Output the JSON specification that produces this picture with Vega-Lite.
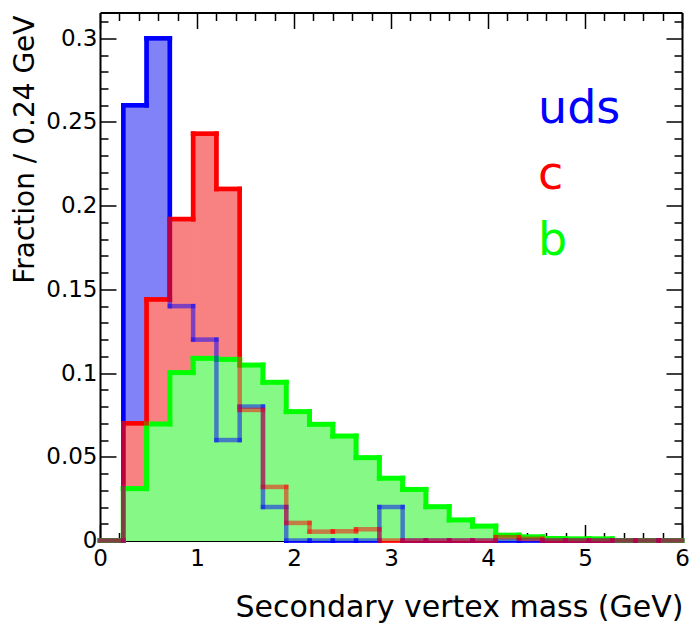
{
  "$schema": "https://vega.github.io/schema/vega-lite/v6.json",
  "width": 582,
  "height": 528,
  "autosize": "none",
  "padding": {"left": 100, "top": 12.5, "right": 7, "bottom": 82.5},
  "background": "white",
  "config": {
    "font": "DejaVu Sans",
    "view": {"stroke": null},
    "axis": {
      "domainColor": "black", "domainWidth": 2,
      "tickColor": "black", "tickWidth": 1.5,
      "grid": false, "labelColor": "black", "labelFontSize": 23,
      "labelFont": "DejaVu Sans", "titleFont": "DejaVu Sans",
      "titleColor": "black", "titleFontWeight": "normal",
      "labelOverlap": false, "labelFlush": false, "zindex": 1
    }
  },
  "data": {
    "values": [
      {"series": "uds", "lo": 0, "hi": 0.24, "frac": 0},
      {"series": "uds", "lo": 0.24, "hi": 0.48, "frac": 0.26},
      {"series": "uds", "lo": 0.48, "hi": 0.72, "frac": 0.30},
      {"series": "uds", "lo": 0.72, "hi": 0.96, "frac": 0.14},
      {"series": "uds", "lo": 0.96, "hi": 1.2, "frac": 0.12},
      {"series": "uds", "lo": 1.2, "hi": 1.44, "frac": 0.06},
      {"series": "uds", "lo": 1.44, "hi": 1.68, "frac": 0.08},
      {"series": "uds", "lo": 1.68, "hi": 1.92, "frac": 0.02},
      {"series": "uds", "lo": 1.92, "hi": 2.16, "frac": 0},
      {"series": "uds", "lo": 2.16, "hi": 2.4, "frac": 0},
      {"series": "uds", "lo": 2.4, "hi": 2.64, "frac": 0},
      {"series": "uds", "lo": 2.64, "hi": 2.88, "frac": 0},
      {"series": "uds", "lo": 2.88, "hi": 3.12, "frac": 0.02},
      {"series": "uds", "lo": 3.12, "hi": 3.36, "frac": 0},
      {"series": "uds", "lo": 3.36, "hi": 3.6, "frac": 0},
      {"series": "uds", "lo": 3.6, "hi": 3.84, "frac": 0},
      {"series": "uds", "lo": 3.84, "hi": 4.08, "frac": 0},
      {"series": "uds", "lo": 4.08, "hi": 4.32, "frac": 0},
      {"series": "uds", "lo": 4.32, "hi": 4.56, "frac": 0},
      {"series": "uds", "lo": 4.56, "hi": 4.8, "frac": 0},
      {"series": "uds", "lo": 4.8, "hi": 5.04, "frac": 0},
      {"series": "uds", "lo": 5.04, "hi": 5.28, "frac": 0},
      {"series": "uds", "lo": 5.28, "hi": 5.52, "frac": 0},
      {"series": "uds", "lo": 5.52, "hi": 5.76, "frac": 0},
      {"series": "uds", "lo": 5.76, "hi": 6, "frac": 0},
      {"series": "c", "lo": 0, "hi": 0.24, "frac": 0},
      {"series": "c", "lo": 0.24, "hi": 0.48, "frac": 0.07},
      {"series": "c", "lo": 0.48, "hi": 0.72, "frac": 0.144},
      {"series": "c", "lo": 0.72, "hi": 0.96, "frac": 0.192},
      {"series": "c", "lo": 0.96, "hi": 1.2, "frac": 0.243},
      {"series": "c", "lo": 1.2, "hi": 1.44, "frac": 0.21},
      {"series": "c", "lo": 1.44, "hi": 1.68, "frac": 0.078},
      {"series": "c", "lo": 1.68, "hi": 1.92, "frac": 0.032},
      {"series": "c", "lo": 1.92, "hi": 2.16, "frac": 0.0105},
      {"series": "c", "lo": 2.16, "hi": 2.4, "frac": 0.0053},
      {"series": "c", "lo": 2.4, "hi": 2.64, "frac": 0.0055},
      {"series": "c", "lo": 2.64, "hi": 2.88, "frac": 0.0067},
      {"series": "c", "lo": 2.88, "hi": 3.12, "frac": 0},
      {"series": "c", "lo": 3.12, "hi": 3.36, "frac": 0},
      {"series": "c", "lo": 3.36, "hi": 3.6, "frac": 0},
      {"series": "c", "lo": 3.6, "hi": 3.84, "frac": 0},
      {"series": "c", "lo": 3.84, "hi": 4.08, "frac": 0},
      {"series": "c", "lo": 4.08, "hi": 4.32, "frac": 0.002},
      {"series": "c", "lo": 4.32, "hi": 4.56, "frac": 0.001},
      {"series": "c", "lo": 4.56, "hi": 4.8, "frac": 0},
      {"series": "c", "lo": 4.8, "hi": 5.04, "frac": 0},
      {"series": "c", "lo": 5.04, "hi": 5.28, "frac": 0},
      {"series": "c", "lo": 5.28, "hi": 5.52, "frac": 0},
      {"series": "c", "lo": 5.52, "hi": 5.76, "frac": 0},
      {"series": "c", "lo": 5.76, "hi": 6, "frac": 0},
      {"series": "b", "lo": 0, "hi": 0.24, "frac": 0},
      {"series": "b", "lo": 0.24, "hi": 0.48, "frac": 0.031},
      {"series": "b", "lo": 0.48, "hi": 0.72, "frac": 0.0696},
      {"series": "b", "lo": 0.72, "hi": 0.96, "frac": 0.1003},
      {"series": "b", "lo": 0.96, "hi": 1.2, "frac": 0.1088},
      {"series": "b", "lo": 1.2, "hi": 1.44, "frac": 0.1082},
      {"series": "b", "lo": 1.44, "hi": 1.68, "frac": 0.1048},
      {"series": "b", "lo": 1.68, "hi": 1.92, "frac": 0.0945},
      {"series": "b", "lo": 1.92, "hi": 2.16, "frac": 0.077},
      {"series": "b", "lo": 2.16, "hi": 2.4, "frac": 0.0694},
      {"series": "b", "lo": 2.4, "hi": 2.64, "frac": 0.0624},
      {"series": "b", "lo": 2.64, "hi": 2.88, "frac": 0.0495},
      {"series": "b", "lo": 2.88, "hi": 3.12, "frac": 0.0372},
      {"series": "b", "lo": 3.12, "hi": 3.36, "frac": 0.0305},
      {"series": "b", "lo": 3.36, "hi": 3.6, "frac": 0.0202},
      {"series": "b", "lo": 3.6, "hi": 3.84, "frac": 0.0123},
      {"series": "b", "lo": 3.84, "hi": 4.08, "frac": 0.0086},
      {"series": "b", "lo": 4.08, "hi": 4.32, "frac": 0.0032},
      {"series": "b", "lo": 4.32, "hi": 4.56, "frac": 0.0022},
      {"series": "b", "lo": 4.56, "hi": 4.8, "frac": 0.0012},
      {"series": "b", "lo": 4.8, "hi": 5.04, "frac": 0.001},
      {"series": "b", "lo": 5.04, "hi": 5.28, "frac": 0.001},
      {"series": "b", "lo": 5.28, "hi": 5.52, "frac": 0},
      {"series": "b", "lo": 5.52, "hi": 5.76, "frac": 0},
      {"series": "b", "lo": 5.76, "hi": 6, "frac": 0}
    ]
  },
  "transform": [
    {"window": [{"op": "lag", "field": "frac", "as": "prev"}], "groupby": ["series"], "sort": [{"field": "lo"}]}
  ],
  "layer": [
    {
      "transform": [{"filter": "datum.series === 'uds'"}],
      "mark": {"type": "rect", "fill": "#8282f8", "stroke": "#8282f8", "strokeWidth": 1},
      "encoding": {
        "x": {"field": "lo", "type": "quantitative", "scale": {"domain": [0, 6], "nice": false, "zero": false},
          "axis": {
            "orient": "bottom",
            "values": [0,0.2,0.4,0.6,0.8,1,1.2,1.4,1.6,1.8,2,2.2,2.4,2.6,2.8,3,3.2,3.4,3.6,3.8,4,4.2,4.4,4.6,4.8,5,5.2,5.4,5.6,5.8,6],
            "labelExpr": "abs(datum.value - round(datum.value)) < 0.001 ? format(datum.value, 'd') : ''",
            "tickSize": {"condition": {"test": "abs(datum.value - round(datum.value)) < 0.001", "value": -16}, "value": -8},
            "labelPadding": 23,
            "title": "Secondary vertex mass (GeV)", "titleFontSize": 30,
            "titleAnchor": "end", "titleAlign": "right", "titleBaseline": "alphabetic",
            "titleX": 583, "titleY": 75.5
          }},
        "x2": {"field": "hi"},
        "y": {"field": "frac", "type": "quantitative", "scale": {"domain": [0, 0.3154], "nice": false},
          "axis": {
            "orient": "left",
            "values": [0,0.01,0.02,0.03,0.04,0.05,0.06,0.07,0.08,0.09,0.1,0.11,0.12,0.13,0.14,0.15,0.16,0.17,0.18,0.19,0.2,0.21,0.22,0.23,0.24,0.25,0.26,0.27,0.28,0.29,0.3,0.31],
            "labelExpr": "abs(datum.value * 20 - round(datum.value * 20)) < 0.001 ? format(datum.value, '~g') : ''",
            "tickSize": {"condition": {"test": "abs(datum.value * 20 - round(datum.value * 20)) < 0.001", "value": -16}, "value": -8},
            "labelPadding": 19,
            "title": "Fraction / 0.24 GeV", "titleFontSize": 28, "titleAngle": 270,
            "titleAnchor": "end", "titleAlign": "right", "titleBaseline": "alphabetic",
            "titleX": -67, "titleY": 2.5
          }},
        "y2": {"datum": 0}
      }
    },
    {
      "transform": [{"filter": "datum.series === 'uds'"}],
      "mark": {"type": "rule", "strokeWidth": 4.5, "strokeCap": "square"},
      "encoding": {
        "x": {"field": "lo", "type": "quantitative", "scale": {"domain": [0, 6], "nice": false, "zero": false}, "axis": null},
        "x2": {"field": "hi"},
        "y": {"field": "frac", "type": "quantitative", "scale": {"domain": [0, 0.3154], "nice": false}, "axis": null},
        "color": {"field": "series", "type": "nominal", "scale": {"domain": ["uds", "c", "b"], "range": ["#0000ff", "#ff0000", "#00ff00"]},
          "legend": {"title": null, "orient": "none", "legendX": 392, "legendY": 73, "symbolSize": 0, "symbolOpacity": 0, "symbolStrokeWidth": 0, "labelFontSize": 46, "labelFont": "DejaVu Sans", "labelOffset": 0, "rowPadding": 20, "padding": 0, "labelLimit": 300,
            "encode": {"labels": {"update": {"fill": {"scale": "color", "field": "value"}}}}}}
      }
    },
    {
      "transform": [{"filter": "datum.series === 'uds'"}],
      "mark": {"type": "rule", "strokeWidth": 4.5, "strokeCap": "square"},
      "encoding": {
        "x": {"field": "lo", "type": "quantitative", "scale": {"domain": [0, 6], "nice": false, "zero": false}, "axis": null},
        "y": {"field": "prev", "type": "quantitative", "scale": {"domain": [0, 0.3154], "nice": false}, "axis": null},
        "y2": {"field": "frac"},
        "color": {"field": "series", "type": "nominal", "scale": {"domain": ["uds", "c", "b"], "range": ["#0000ff", "#ff0000", "#00ff00"]}, "legend": null}
      }
    },
    {
      "transform": [{"filter": "datum.series === 'c'"}],
      "mark": {"type": "rect", "fill": "#f88282", "stroke": "#f88282", "strokeWidth": 1},
      "encoding": {
        "x": {"field": "lo", "type": "quantitative", "scale": {"domain": [0, 6], "nice": false, "zero": false}, "axis": null},
        "x2": {"field": "hi"},
        "y": {"field": "frac", "type": "quantitative", "scale": {"domain": [0, 0.3154], "nice": false}, "axis": null},
        "y2": {"datum": 0}
      }
    },
    {
      "transform": [{"filter": "datum.series === 'c'"}],
      "mark": {"type": "rule", "strokeWidth": 4.5, "strokeCap": "square"},
      "encoding": {
        "x": {"field": "lo", "type": "quantitative", "scale": {"domain": [0, 6], "nice": false, "zero": false}, "axis": null},
        "x2": {"field": "hi"},
        "y": {"field": "frac", "type": "quantitative", "scale": {"domain": [0, 0.3154], "nice": false}, "axis": null},
        "color": {"field": "series", "type": "nominal", "scale": {"domain": ["uds", "c", "b"], "range": ["#0000ff", "#ff0000", "#00ff00"]}, "legend": null}
      }
    },
    {
      "transform": [{"filter": "datum.series === 'c'"}],
      "mark": {"type": "rule", "strokeWidth": 4.5, "strokeCap": "square"},
      "encoding": {
        "x": {"field": "lo", "type": "quantitative", "scale": {"domain": [0, 6], "nice": false, "zero": false}, "axis": null},
        "y": {"field": "prev", "type": "quantitative", "scale": {"domain": [0, 0.3154], "nice": false}, "axis": null},
        "y2": {"field": "frac"},
        "color": {"field": "series", "type": "nominal", "scale": {"domain": ["uds", "c", "b"], "range": ["#0000ff", "#ff0000", "#00ff00"]}, "legend": null}
      }
    },
    {
      "transform": [{"filter": "datum.series === 'b'"}],
      "mark": {"type": "rect", "fill": "#86f886", "stroke": "#86f886", "strokeWidth": 1},
      "encoding": {
        "x": {"field": "lo", "type": "quantitative", "scale": {"domain": [0, 6], "nice": false, "zero": false}, "axis": null},
        "x2": {"field": "hi"},
        "y": {"field": "frac", "type": "quantitative", "scale": {"domain": [0, 0.3154], "nice": false}, "axis": null},
        "y2": {"datum": 0}
      }
    },
    {
      "transform": [{"filter": "datum.series === 'b'"}],
      "mark": {"type": "rule", "strokeWidth": 5, "strokeCap": "square"},
      "encoding": {
        "x": {"field": "lo", "type": "quantitative", "scale": {"domain": [0, 6], "nice": false, "zero": false},
          "axis": {
            "orient": "top",
            "values": [0,0.2,0.4,0.6,0.8,1,1.2,1.4,1.6,1.8,2,2.2,2.4,2.6,2.8,3,3.2,3.4,3.6,3.8,4,4.2,4.4,4.6,4.8,5,5.2,5.4,5.6,5.8,6],
            "labels": false,
            "tickSize": {"condition": {"test": "abs(datum.value - round(datum.value)) < 0.001", "value": -16}, "value": -8},
            "title": null
          }},
        "x2": {"field": "hi"},
        "y": {"field": "frac", "type": "quantitative", "scale": {"domain": [0, 0.3154], "nice": false},
          "axis": {
            "orient": "right",
            "values": [0,0.01,0.02,0.03,0.04,0.05,0.06,0.07,0.08,0.09,0.1,0.11,0.12,0.13,0.14,0.15,0.16,0.17,0.18,0.19,0.2,0.21,0.22,0.23,0.24,0.25,0.26,0.27,0.28,0.29,0.3,0.31],
            "labels": false,
            "tickSize": {"condition": {"test": "abs(datum.value * 20 - round(datum.value * 20)) < 0.001", "value": -16}, "value": -8},
            "title": null
          }},
        "color": {"field": "series", "type": "nominal", "scale": {"domain": ["uds", "c", "b"], "range": ["#0000ff", "#ff0000", "#00ff00"]}, "legend": null}
      }
    },
    {
      "transform": [{"filter": "datum.series === 'b'"}],
      "mark": {"type": "rule", "strokeWidth": 5, "strokeCap": "square"},
      "encoding": {
        "x": {"field": "lo", "type": "quantitative", "scale": {"domain": [0, 6], "nice": false, "zero": false}, "axis": null},
        "y": {"field": "prev", "type": "quantitative", "scale": {"domain": [0, 0.3154], "nice": false}, "axis": null},
        "y2": {"field": "frac"},
        "color": {"field": "series", "type": "nominal", "scale": {"domain": ["uds", "c", "b"], "range": ["#0000ff", "#ff0000", "#00ff00"]}, "legend": null}
      }
    },
    {
      "transform": [{"filter": {"field": "series", "oneOf": ["uds", "c"]}}],
      "mark": {"type": "rule", "strokeWidth": 4.5, "strokeCap": "square", "opacity": 0.5},
      "encoding": {
        "x": {"field": "lo", "type": "quantitative", "scale": {"domain": [0, 6], "nice": false, "zero": false}, "axis": null},
        "x2": {"field": "hi"},
        "y": {"field": "frac", "type": "quantitative", "scale": {"domain": [0, 0.3154], "nice": false}, "axis": null},
        "color": {"field": "series", "type": "nominal", "scale": {"domain": ["uds", "c", "b"], "range": ["#0000ff", "#ff0000", "#00ff00"]}, "legend": null}
      }
    },
    {
      "transform": [{"filter": {"field": "series", "oneOf": ["uds", "c"]}}],
      "mark": {"type": "rule", "strokeWidth": 4.5, "strokeCap": "square", "opacity": 0.5},
      "encoding": {
        "x": {"field": "lo", "type": "quantitative", "scale": {"domain": [0, 6], "nice": false, "zero": false}, "axis": null},
        "y": {"field": "prev", "type": "quantitative", "scale": {"domain": [0, 0.3154], "nice": false}, "axis": null},
        "y2": {"field": "frac"},
        "color": {"field": "series", "type": "nominal", "scale": {"domain": ["uds", "c", "b"], "range": ["#0000ff", "#ff0000", "#00ff00"]}, "legend": null}
      }
    }
  ],
  "resolve": {"axis": {"x": "independent", "y": "independent"}}
}
